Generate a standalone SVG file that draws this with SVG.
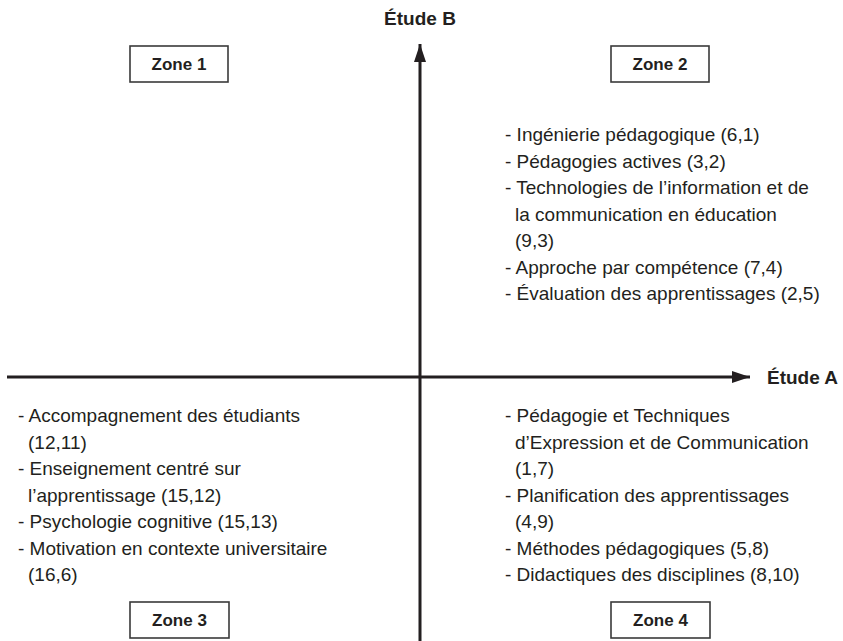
<svg xmlns="http://www.w3.org/2000/svg" width="843" height="641" viewBox="0 0 843 641">
<style>
.t{font-family:"Liberation Sans",Arial,sans-serif;font-size:19px;fill:#231f20}
.b{font-family:"Liberation Sans",Arial,sans-serif;font-weight:bold;fill:#231f20}
.z{font-size:17px;text-anchor:middle}
.box{fill:#fff;stroke:#3a3a3a;stroke-width:1.6}
.axis{stroke:#231f20;stroke-width:3;fill:none}
</style>
<defs>
<marker id="ah" viewBox="0 0 18 12" refX="18" refY="6" markerWidth="18" markerHeight="12" markerUnits="userSpaceOnUse" orient="auto">
<path d="M0,0 L18,6 L0,12 Z" fill="#231f20"/>
</marker>
</defs>
<rect width="843" height="641" fill="#fff"/>
<g id="connectors">
<line class="axis" x1="420" y1="641" x2="420" y2="44" marker-end="url(#ah)"/>
<line class="axis" x1="7" y1="377" x2="750" y2="377" marker-end="url(#ah)"/>
</g>
<g id="etudeB"><text class="b" x="420" y="25" font-size="19" text-anchor="middle">Étude B</text></g>
<g id="etudeA"><text class="b" x="767" y="384" font-size="19">Étude A</text></g>
<g id="zone1"><rect class="box" x="130" y="46" width="98" height="36"/><text class="b z" x="179" y="70">Zone 1</text></g>
<g id="zone2"><rect class="box" x="611" y="46" width="98" height="36"/><text class="b z" x="660" y="70">Zone 2</text></g>
<g id="zone3"><rect class="box" x="130" y="602" width="99" height="36"/><text class="b z" x="179.5" y="626">Zone 3</text></g>
<g id="zone4"><rect class="box" x="611" y="602" width="99" height="36"/><text class="b z" x="660.5" y="626">Zone 4</text></g>
<g id="list2">
<text class="t" x="505" y="141">- Ingénierie pédagogique (6,1)</text>
<text class="t" x="505" y="167.5">- Pédagogies actives (3,2)</text>
<text class="t" x="505" y="194">- Technologies de l’information et de</text>
<text class="t" x="515" y="220.5">la communication en éducation</text>
<text class="t" x="515" y="247">(9,3)</text>
<text class="t" x="505" y="273.5">- Approche par compétence (7,4)</text>
<text class="t" x="505" y="300">- Évaluation des apprentissages (2,5)</text>
</g>
<g id="list3">
<text class="t" x="18" y="422">- Accompagnement des étudiants</text>
<text class="t" x="28" y="448.5">(12,11)</text>
<text class="t" x="18" y="475">- Enseignement centré sur</text>
<text class="t" x="28" y="501.5">l’apprentissage (15,12)</text>
<text class="t" x="18" y="528">- Psychologie cognitive (15,13)</text>
<text class="t" x="18" y="554.5">- Motivation en contexte universitaire</text>
<text class="t" x="28" y="581">(16,6)</text>
</g>
<g id="list4">
<text class="t" x="505" y="422">- Pédagogie et Techniques</text>
<text class="t" x="515" y="448.5">d’Expression et de Communication</text>
<text class="t" x="515" y="475">(1,7)</text>
<text class="t" x="505" y="501.5">- Planification des apprentissages</text>
<text class="t" x="515" y="528">(4,9)</text>
<text class="t" x="505" y="554.5">- Méthodes pédagogiques (5,8)</text>
<text class="t" x="505" y="581">- Didactiques des disciplines (8,10)</text>
</g>
</svg>
